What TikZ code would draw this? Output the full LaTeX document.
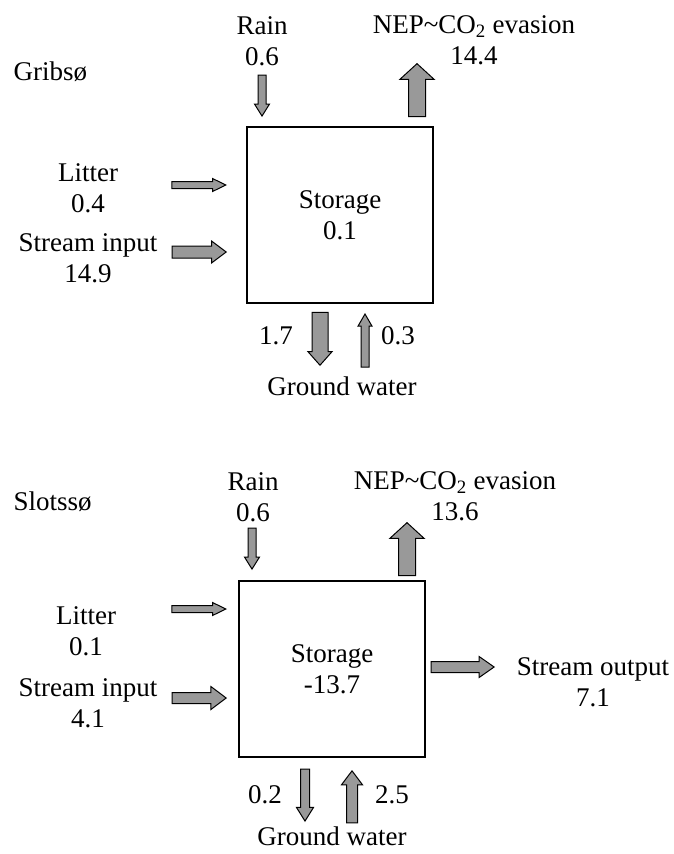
\documentclass[tikz,border=0pt]{standalone}
\usepackage{fontspec}
\setmainfont{Liberation Serif}
\usetikzlibrary{shapes.arrows}

\begin{document}
\begin{tikzpicture}[x=1pt, y=-1pt,
    every node/.style={font=\fontsize{27}{31}\selectfont, align=center},
    flow/.style n args={4}{single arrow, draw, fill=gray!80, line width=1pt,
        inner sep=0pt, text width=0pt, text height=#2pt, text depth=0pt,
        minimum height=#1pt, single arrow head extend=#3pt,
        single arrow tip angle=#4, anchor=tip},
    store/.style={draw, line width=1.2pt, minimum width=186pt, minimum height=176pt}]
    \useasboundingbox (0,0) rectangle (673,854);
    % Gribsoe
    \node[anchor=west] (gribso) at (10,72) {Gribsø};
    \node[store] (storeA) at (340,215) {Storage\\0.1};
    \node (rainA) at (262,41) {Rain\\0.6};
    \node[flow={41}{7}{3.5}{64}, rotate=-90] (rainAr) at (262,117) {};
    \node (nepA) at (474,40) {NEP\textasciitilde CO\textsubscript{2} evasion\\14.4};
    \node[flow={53}{16}{8.5}{95}, rotate=90] (nepAr) at (417,63) {};
    \node (litA) at (88,188) {Litter\\0.4};
    \node[flow={54}{6}{3}{52}] (litAr) at (227,185) {};
    \node (strA) at (88,258) {Stream input\\14.9};
    \node[flow={54}{11}{5}{74}] (strAr) at (227,252) {};
    \node[flow={53}{15}{4}{83}, rotate=-90] (gwAout) at (320,366) {};
    \node[flow={53}{7}{3}{60}, rotate=90] (gwAin) at (365,313) {};
    \node (gwAoutl) at (276,336) {1.7};
    \node (gwAinl) at (398,336) {0.3};
    \node (gwA) at (342,386) {Ground water};
    % Slotssoe
    \node[anchor=west] (slotsso) at (10,502) {Slotssø};
    \node[store] (storeB) at (332,669) {Storage\\-13.7};
    \node (rainB) at (253,497) {Rain\\0.6};
    \node[flow={41}{7}{3.5}{64}, rotate=-90] (rainBr) at (252,570) {};
    \node (nepB) at (455,496) {NEP\textasciitilde CO\textsubscript{2} evasion\\13.6};
    \node[flow={53}{16}{8.5}{95}, rotate=90] (nepBr) at (407,522) {};
    \node (litB) at (86,631) {Litter\\0.1};
    \node[flow={54}{6}{3}{52}] (litBr) at (227,609) {};
    \node (strB) at (88,703) {Stream input\\4.1};
    \node[flow={54}{10}{6}{74}] (strBr) at (227,698) {};
    \node[flow={63}{10}{5}{70}] (outBr) at (495,667) {};
    \node (outB) at (593,682) {Stream output\\7.1};
    \node[flow={52}{8}{4}{64}, rotate=-90] (gwBout) at (305,822) {};
    \node[flow={52}{10}{5}{74}, rotate=90] (gwBin) at (352,770) {};
    \node (gwBoutl) at (265,795) {0.2};
    \node (gwBinl) at (392,795) {2.5};
    \node (gwB) at (332,836) {Ground water};
\end{tikzpicture}
\end{document}
